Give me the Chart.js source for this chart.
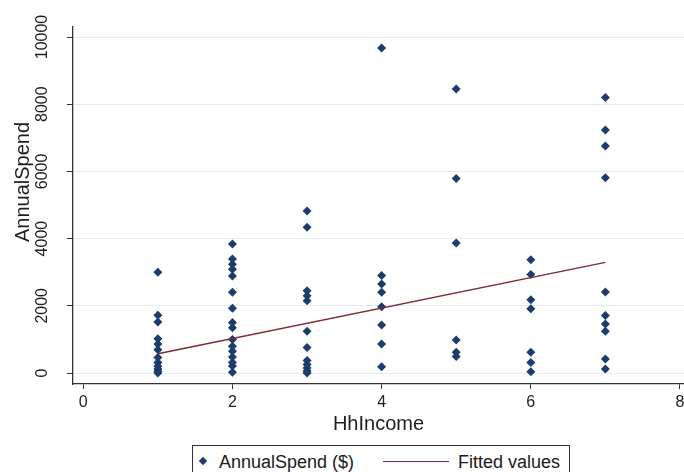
<!DOCTYPE html>
<html>
<head>
<meta charset="utf-8">
<script src="https://cdn.jsdelivr.net/npm/chart.js@4.4.1/dist/chart.umd.min.js"></script>
<style>
html,body{margin:0;padding:0;background:#fff;overflow:hidden;}
#wrap{position:relative;width:684px;height:472px;}
#legend{position:absolute;left:192px;top:445px;width:378px;height:40px;border:1px solid #333;box-sizing:border-box;font-family:"Liberation Sans",Arial,sans-serif;font-size:18px;color:#1a1a1a;background:#fff;}
#legend .it{position:absolute;top:5px;line-height:22px;white-space:nowrap;}
#legend .dia{position:absolute;left:7px;top:12px;width:6px;height:6px;background:#1c3d6b;transform:rotate(45deg);}
#legend .ln{position:absolute;left:190px;top:15px;width:66px;height:0;border-top:1.5px solid #7e2a30;}
</style>
</head>
<body>
<div id="wrap">
<canvas id="c" width="684" height="472"></canvas>
<div id="legend">
  <span class="dia"></span>
  <span class="it" style="left:26px">AnnualSpend ($)</span>
  <span class="ln"></span>
  <span class="it" style="left:265px">Fitted values</span>
</div>
</div>
<script>
// ---- data ----
const incomeLevels = [1, 2, 3, 4, 5, 6, 7];
const spendAt1 = [3000, 1720, 1520, 1020, 860, 690, 460, 310, 200, 120, 50, 0];
const spendAt2 = [3840, 3390, 3240, 3090, 2890, 2400, 1930, 1500, 1350, 1000, 800, 650, 480, 310, 210, 20];
const spendAt3 = [4820, 4340, 2450, 2300, 2150, 1240, 760, 370, 250, 150, 60, 0];
const spendAt4 = [9670, 2900, 2650, 2400, 1970, 1430, 860, 190];
const spendAt5 = [8450, 5790, 3870, 985, 615, 490];
const spendAt6 = [3370, 2930, 2180, 1910, 615, 316, 40];
const spendAt7 = [8200, 7230, 6760, 5810, 2410, 1710, 1460, 1240, 420, 120];
const fittedX = [1, 7];
const fittedY = [575, 3293];
const xTicks = [0, 2, 4, 6, 8];
const yTicks = [0, 2000, 4000, 6000, 8000, 10000];
const xTitle = 'HhIncome';
const yTitle = 'AnnualSpend';
const seriesLabels = ['AnnualSpend ($)', 'Fitted values'];

const spendByLevel = [spendAt1, spendAt2, spendAt3, spendAt4, spendAt5, spendAt6, spendAt7];
const scatterPts = [];
incomeLevels.forEach((lv, i) => spendByLevel[i].forEach(v => scatterPts.push({x: lv, y: v})));
const fittedPts = fittedX.map((x, i) => ({x: x, y: fittedY[i]}));

const FAM = '"Liberation Sans", Arial, sans-serif';
const NAVY = '#1c3d6b';
const MAROON = '#7e2a30';
const INK = '#1e1e1e';

const yTitlePlugin = {
  id: 'yTitlePlugin',
  afterDraw(chart) {
    const ctx = chart.ctx;
    ctx.save();
    ctx.translate(23, 182);
    ctx.rotate(-Math.PI / 2);
    ctx.font = '20px ' + FAM;
    ctx.fillStyle = INK;
    ctx.textAlign = 'center';
    ctx.textBaseline = 'middle';
    ctx.fillText(yTitle, 0, 0);
    ctx.restore();
  }
};

new Chart(document.getElementById('c'), {
  type: 'scatter',
  data: {
    datasets: [
      {label: seriesLabels[0], data: scatterPts, pointStyle: 'rectRot', pointRadius: 4.5, pointHoverRadius: 4.5,
       backgroundColor: NAVY, borderColor: NAVY, borderWidth: 0, order: 1},
      {type: 'line', label: seriesLabels[1], data: fittedPts, borderColor: MAROON, borderWidth: 1.5,
       pointRadius: 0, fill: false, tension: 0, order: 0}
    ]
  },
  options: {
    responsive: false,
    animation: false,
    layout: {autoPadding: false, padding: {top: 27, left: 0, right: 0, bottom: 0}},
    plugins: {legend: {display: false}, tooltip: {enabled: false}},
    scales: {
      x: {
        type: 'linear', min: -0.138, max: 8.054,
        afterBuildTicks(s) { s.ticks = xTicks.map(v => ({value: v})); },
        afterFit(s) { s.height = 88; s.paddingLeft = 0; s.paddingRight = 0; },
        grid: {drawOnChartArea: false, tickLength: 5, tickColor: '#333', lineWidth: 1},
        border: {color: '#333', width: 1.3},
        ticks: {autoSkip: false, maxRotation: 0, minRotation: 0, padding: 4, color: INK,
                font: {size: 16, family: FAM}, callback: v => String(v)},
        title: {display: true, text: xTitle, color: INK, font: {size: 20, family: FAM}, padding: {top: 0, bottom: 36}}
      },
      y: {
        type: 'linear', min: -327, max: 10298,
        afterBuildTicks(s) { s.ticks = yTicks.map(v => ({value: v})); },
        afterFit(s) { s.width = 73; s.paddingTop = 0; s.paddingBottom = 0; },
        grid: {color: '#e2ebef', lineWidth: 1, tickColor: '#333', tickLength: 6},
        border: {color: '#333', width: 1.3},
        ticks: {minRotation: 90, maxRotation: 90, crossAlign: 'center', padding: 2, color: INK,
                font: {size: 16, family: FAM}, callback: v => String(v)}
      }
    }
  },
  plugins: [yTitlePlugin]
});
</script>
</body>
</html>
